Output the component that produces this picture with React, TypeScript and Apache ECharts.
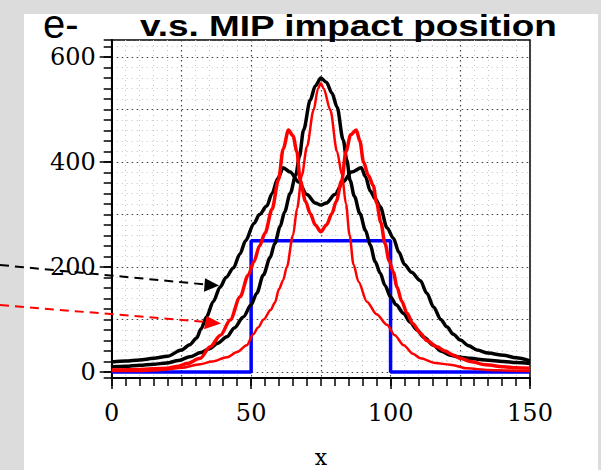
import React, { useEffect, useRef } from "react";
import * as echarts from "echarts";

// ---- data ----
const xTickLabels = [0, 50, 100, 150];
const yTickLabels = [0, 200, 400, 600];

const blueStep: [number, number][] = [
  [0, 0], [50, 0], [50, 250], [100, 250], [100, 0], [150, 0],
];

const blackWide: [number, number][] = [
  [0, 19], [5, 21], [10, 23], [15, 26], [20, 30], [25, 42], [28, 52], [30.5, 65],
  [32, 82], [34, 105], [36.4, 134], [38.9, 162], [41, 180], [43.6, 198], [46, 225],
  [48, 250], [51, 283], [53, 300], [55.6, 316], [57.5, 340], [59.5, 368], [61.5, 389],
  [64, 381], [67, 362], [70, 338], [73, 322], [75, 318], [77, 322], [80, 338],
  [83, 362], [86, 381], [89.5, 389], [91, 372], [92.7, 345], [94.5, 330], [96.3, 315],
  [98.7, 275], [101, 255], [103, 228], [105, 205], [107.5, 190], [110.7, 174],
  [113, 150], [115.4, 124], [118, 100], [120.2, 86], [122.5, 72], [125, 61],
  [128, 50], [131, 42], [135, 36], [140.5, 32], [145, 27], [150, 21],
];

const blackNarrow: [number, number][] = [
  [0, 10], [5, 11], [10, 13], [15, 15], [19.7, 17], [24, 22], [28, 29], [32, 37],
  [35.3, 45], [38, 55], [41.3, 67], [44, 84], [47.2, 105], [50, 128], [52, 150],
  [54.4, 185], [56.8, 218], [58.5, 245], [60.4, 277], [62, 305], [64, 340], [66, 375],
  [67.3, 410], [68.8, 461], [71.2, 518], [73, 545], [75, 560], [77, 552], [79, 531],
  [80.8, 505], [83, 442], [84.3, 404], [85.5, 365], [87, 335], [89, 302], [91, 270],
  [92.7, 242], [94.5, 210], [96.3, 188], [98, 165], [100, 143], [102, 128],
  [104.6, 112], [107, 95], [109.5, 80], [112, 66], [115.4, 51], [118, 40],
  [121.4, 32], [125, 28], [128.6, 26], [134, 23], [140.5, 20], [145, 18], [150, 16],
];

const redWide: [number, number][] = [
  [0, 4], [10, 5], [19.7, 7], [24, 11], [27, 16], [31.7, 26], [35.3, 48], [39, 70],
  [42.5, 99], [46, 143], [49, 185], [51, 210], [53, 240], [55, 265], [57.5, 310],
  [59.8, 366], [61.5, 425], [63.4, 461], [65, 450], [66.4, 420], [67.6, 365],
  [69.5, 325], [71.2, 302], [73, 280], [75, 267], [77, 280], [79, 302], [80.5, 325],
  [82.5, 365], [84, 420], [85.7, 452], [87.7, 461], [89, 440], [90.3, 400],
  [92, 375], [93.8, 355], [95, 322], [96.5, 285], [98, 245], [99.5, 212],
  [101, 190], [102.3, 162], [104, 135], [105.9, 112], [108, 92], [110.7, 74],
  [113, 60], [116.6, 48], [119.5, 40], [122.6, 32], [125, 26], [128.6, 20],
  [134, 14], [140.5, 10], [145, 8], [150, 7],
];

const redNarrow: [number, number][] = [
  [0, 2], [10, 2], [15, 3], [20, 5], [25, 8], [31.7, 15], [36, 20], [41.3, 28],
  [45, 38], [48.4, 51], [50.8, 72], [52.5, 85], [54.5, 100], [57, 118], [58.5, 132],
  [60, 158], [61.5, 175], [62.8, 200], [65, 260], [66.5, 312], [68.2, 375], [70, 429],
  [72.4, 499], [74, 540], [75, 550], [76, 540], [78.4, 499], [80.8, 420], [82.6, 375],
  [84, 320], [85.3, 261], [86.7, 205], [88.5, 172], [91.5, 134], [95, 110],
  [98.7, 90], [101.5, 70], [104.7, 51], [108, 35], [110.7, 26], [116, 17],
  [121.4, 14], [127.4, 7], [135, 4], [142, 3], [150, 2],
];

const Y_MIN = -11.4;
const Y_MAX = 632.4;

const serif = '"DejaVu Serif", serif';

export default function App() {
  const ref = useRef<HTMLDivElement>(null);

  useEffect(() => {
    if (!ref.current) return;
    const chart = echarts.init(ref.current, undefined, { renderer: "svg" });

    const lineSeries = (data: [number, number][], color: string, width: number, name: string) => ({
      name,
      type: "line",
      data,
      xAxisIndex: 0,
      yAxisIndex: 0,
      showSymbol: false,
      symbol: "none",
      smooth: 0.3,
      smoothMonotone: "x",
      lineStyle: { color, width },
      z: 3,
    });

    const minorGrid = { show: true, lineStyle: { color: "#c4c4c4", width: 1, type: [1, 4] } };
    const majorGrid = { show: true, lineStyle: { color: "#444", width: 1.2, type: [1.5, 3.5] } };

    chart.setOption({
      animation: false,
      backgroundColor: "#dcdcdc",
      grid: {
        left: 111.7,
        top: 40,
        width: 418.3,
        height: 338,
        show: true,
        borderColor: "#000",
        borderWidth: 1.5,
        backgroundColor: "transparent",
        containLabel: false,
        outerBoundsMode: "none",
      },
      xAxis: [
        {
          type: "value",
          min: 0,
          max: 150,
          interval: 5,
          position: "bottom",
          axisLine: { show: true, onZero: false, lineStyle: { color: "#000", width: 2 } },
          axisTick: { show: true, length: 8, lineStyle: { color: "#000", width: 1.5 } },
          axisLabel: { show: false },
          splitLine: minorGrid,
        },
        {
          type: "value",
          min: 0,
          max: 150,
          interval: 25,
          position: "bottom",
          axisLine: { show: false },
          axisTick: { show: false },
          axisLabel: { show: false },
          splitLine: majorGrid,
        },
        {
          type: "value",
          min: 0,
          max: 150,
          interval: 50,
          position: "bottom",
          axisLine: { show: false, onZero: false },
          axisTick: { show: true, length: 11, lineStyle: { color: "#000", width: 1.5 } },
          axisLabel: {
            show: true,
            margin: 23,
            color: "#000",
            fontFamily: serif,
            fontSize: 24,
            formatter: (v: number) => (xTickLabels.includes(v) ? String(v) : ""),
          },
          splitLine: { show: false },
          name: "x",
          nameLocation: "middle",
          nameGap: 68,
          nameTextStyle: { color: "#000", fontFamily: serif, fontSize: 22, lineHeight: 22 },
        },
      ],
      yAxis: [
        {
          type: "value",
          min: Y_MIN,
          max: Y_MAX,
          minInterval: 20,
          maxInterval: 20,
          position: "left",
          axisLine: { show: true, onZero: false, lineStyle: { color: "#000", width: 2 } },
          axisTick: { show: true, length: 8, lineStyle: { color: "#000", width: 1.5 } },
          axisLabel: { show: false },
          splitLine: minorGrid,
        },
        {
          type: "value",
          min: Y_MIN,
          max: Y_MAX,
          minInterval: 100,
          maxInterval: 100,
          position: "left",
          axisLine: { show: false },
          axisTick: { show: false },
          axisLabel: { show: false },
          splitLine: majorGrid,
        },
        {
          type: "value",
          min: Y_MIN,
          max: Y_MAX,
          position: "left",
          axisLine: { show: false, onZero: false },
          axisTick: { show: true, length: 12, customValues: yTickLabels, lineStyle: { color: "#000", width: 1.5 } },
          axisLabel: {
            show: true,
            customValues: yTickLabels,
            margin: 16,
            color: "#000",
            fontFamily: serif,
            fontSize: 24,
            padding: [7, 0, 0, 0],
          },
          splitLine: { show: false },
        },
      ],
      series: [
        {
          name: "blue",
          type: "line",
          data: blueStep,
          showSymbol: false,
          symbol: "none",
          lineStyle: { color: "#0000ff", width: 3.5 },
          z: 2,
        },
        lineSeries(blackWide, "#000000", 3.5, "black wide"),
        lineSeries(blackNarrow, "#000000", 3.5, "black narrow"),
        lineSeries(redWide, "#ff0000", 3.5, "red wide"),
        lineSeries(redNarrow, "#ff0000", 2.5, "red narrow"),
      ],
      graphic: [
        {
          type: "rect",
          z: -100,
          shape: { x: 24, y: 14, width: 574, height: 456 },
          style: { fill: "#ffffff" },
          silent: true,
        },
        {
          type: "text",
          z: 100,
          x: 43,
          y: 24,
          style: {
            text: "e-",
            x: 0,
            y: 0,
            fill: "#000",
            font: '40px "Liberation Sans", Arial, sans-serif',
            textAlign: "left",
            textVerticalAlign: "middle",
          },
        },
        {
          type: "text",
          z: 100,
          x: 140,
          y: 25.5,
          scaleX: 1.23,
          style: {
            text: "v.s. MIP impact position",
            x: 0,
            y: 0,
            fill: "#000",
            font: 'bold 30px "Liberation Sans", Arial, sans-serif',
            textAlign: "left",
            textVerticalAlign: "middle",
          },
        },
        {
          type: "line",
          z: 100,
          shape: { x1: 0, y1: 265, x2: 206, y2: 284.5 },
          style: { stroke: "#000", lineWidth: 2, lineDash: [9, 6] },
        },
        {
          type: "polygon",
          z: 100,
          shape: { points: [[219, 285.5], [205, 278.3], [204, 291.7]] },
          style: { fill: "#000" },
        },
        {
          type: "line",
          z: 100,
          shape: { x1: 0, y1: 305, x2: 207, y2: 322 },
          style: { stroke: "#ff0000", lineWidth: 2, lineDash: [9, 6] },
        },
        {
          type: "polygon",
          z: 100,
          shape: { points: [[221, 323.5], [206.7, 316], [204, 329.3]] },
          style: { fill: "#ff0000" },
        },
      ],
    });

    return () => chart.dispose();
  }, []);

  return (
    <div
      ref={ref}
      style={{ position: "absolute", left: 0, top: 0, width: 601, height: 470 }}
    />
  );
}
